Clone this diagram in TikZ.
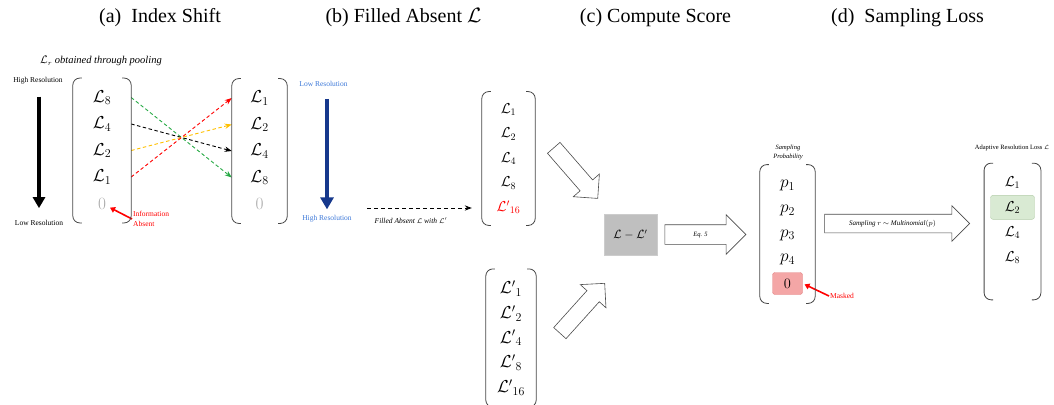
\documentclass[tikz,border=0pt]{standalone}
\usepackage{fontspec}
\setmainfont{Liberation Serif}
\usetikzlibrary{matrix,arrows.meta,shapes.arrows,calc,positioning}

\definecolor{dashgreen}{RGB}{40,170,70}
\definecolor{dashyellow}{RGB}{255,192,0}
\definecolor{lowblue}{RGB}{60,120,216}
\definecolor{navyarrow}{RGB}{22,56,140}
\definecolor{maskfill}{RGB}{244,166,166}
\definecolor{maskline}{RGB}{226,130,130}
\definecolor{pickfill}{RGB}{217,234,211}
\definecolor{pickline}{RGB}{180,205,170}
\definecolor{brkgray}{RGB}{70,70,70}
\definecolor{absentgray}{RGB}{170,170,170}

\newcommand{\sz}[1]{\fontsize{#1}{#1}\selectfont}

\begin{document}
\begin{tikzpicture}[x=1pt,y=-1pt,>=Stealth,
    title/.style={font=\sz{20}, anchor=base, inner sep=0pt},
    note/.style={font=\fontsize{7.5}{10}\selectfont, inner sep=1pt},
    vec/.style={matrix of math nodes, inner xsep=6pt, inner ysep=6pt, row sep=0pt},
    cell/.style 2 args={inner sep=0pt, anchor=center, minimum height=#1, minimum width=#2},
    brk/.style={draw=brkgray, line width=0.8pt, rounded corners=7pt},
    cross/.style={->, dash pattern=on 3.5pt off 2.5pt, line width=0.9pt},
    redarr/.style={red, line width=1.6pt, -{Triangle[width=6pt,length=5pt]}},
    blockarr/.style={single arrow, draw=black!70, line width=0.6pt, fill=white,
        single arrow tip angle=90, inner xsep=0pt, text height=0pt, text depth=0pt}]

    \useasboundingbox (0,0) rectangle (1054,404);

    % titles
    \node[title] (ttla) at (160,23) {(a)\ \ Index Shift};
    \node[title] (ttlb) at (403.5,23) {(b) Filled Absent $\mathcal{L}$};
    \node[title] (ttlc) at (655.5,23) {(c) Compute Score};
    \node[title] (ttld) at (907.5,23) {(d)\ \ Sampling Loss};

    % (a) index shift
    \node[font=\itshape\sz{10.5}] (poolnote) at (101,61) {$\mathcal{L}_r$ obtained through pooling};
    \node[note] (hires) at (38,81) {High Resolution};
    \node[note] (lores) at (39,223) {Low Resolution};
    \draw[line width=4pt, -{Triangle[width=12pt,length=11pt]}, shorten <=11pt, shorten >=11pt]
        (hires.south -| lores) -- (lores.north);

    \matrix (pooled) [vec, font=\sz{17.28}, nodes={cell={26.5pt}{46pt}, font=\sz{17.28}}] at (102,150.5) {
        \mathcal{L}_8 \\ \mathcal{L}_4 \\ \mathcal{L}_2 \\ \mathcal{L}_1 \\ |[text=absentgray]| 0 \\
    };
    \matrix (shifted) [vec, font=\sz{17.28}, nodes={cell={26.5pt}{43pt}, font=\sz{17.28}}] at (259.5,151) {
        \mathcal{L}_1 \\ \mathcal{L}_2 \\ \mathcal{L}_4 \\ \mathcal{L}_8 \\ |[text=absentgray]| 0 \\
    };

    \foreach \i/\j/\c in {1/4/dashgreen, 2/3/black, 3/2/dashyellow, 4/1/red}
        \draw[cross, \c] (pooled-\i-1 -| pooled.east) -- (shifted-\j-1 -| shifted.west);

    \node[note, text=red, align=left, anchor=west] (absent) at (132,219) {Information\\Absent};
    \draw[redarr, shorten >=9pt] (absent.west) -- (pooled-5-1.center);

    % (b) filled absent
    \node[note, text=lowblue] (lores2) at (323.5,84) {Low Resolution};
    \node[note, text=lowblue] (hires2) at (327,219) {High Resolution};
    \draw[navyarrow, line width=4.5pt, -{Triangle[width=13pt,length=12pt]}, shorten <=11pt, shorten >=5pt]
        (lores2.south -| hires2) -- (hires2.north);

    \matrix (filled) [vec, inner ysep=5.5pt, font=\sz{14.4}, nodes={cell={24.5pt}{41pt}, font=\sz{14.4}}] at (508.5,158.5) {
        \mathcal{L}_1 \\ \mathcal{L}_2 \\ \mathcal{L}_4 \\ \mathcal{L}_8 \\ |[text=red]| {\mathcal{L}'}_{16} \\
    };
    \coordinate (fillfrom) at (367,208);
    \draw[->, dash pattern=on 4pt off 3pt, line width=0.9pt, shorten >=10pt] (fillfrom) -- (fillfrom -| filled.west);
    \node[font=\itshape\sz{7.5}] (filllab) at (411,221) {Filled Absent $\mathcal{L}$ with $\mathcal{L}'$};

    \matrix (fresh) [vec, inner ysep=7pt, font=\sz{17.28}, nodes={cell={24.75pt}{38pt}, font=\sz{17.28}}] at (511,338) {
        {\mathcal{L}'}_1 \\ {\mathcal{L}'}_2 \\ {\mathcal{L}'}_4 \\ {\mathcal{L}'}_8 \\ {\mathcal{L}'}_{16} \\
    };

    % (c) compute score
    \node[draw=black!20, fill=black!25, minimum width=53pt, minimum height=41pt, font=\sz{12}] (score) at (630.5,234.5) {$\mathcal{L}-\mathcal{L}'$};
    \node[blockarr, rotate=-49, minimum height=67pt, inner ysep=8pt, single arrow head extend=9pt] (toscore1) at (573,170) {};
    \node[blockarr, rotate=48, minimum height=67pt, inner ysep=8pt, single arrow head extend=9pt] (toscore2) at (579.5,311.3) {};
    \node[blockarr, minimum height=81pt, inner ysep=7.5pt, text height=4pt, single arrow head extend=10pt,
        font=\itshape\sz{6.5}] (eqarr) at (700.5,234.5) {Eq. 5};

    % (d) sampling loss
    \node[font=\itshape\fontsize{6.5}{9}\selectfont, align=center, inner sep=0pt] (problab) at (788,152) {Sampling\\Probability};
    \matrix (prob) [vec, inner ysep=8.5pt, font=\sz{17.28}, nodes={cell={24.75pt}{43pt}, font=\sz{17.28}}] at (787.5,234) {
        p_1 \\ p_2 \\ p_3 \\ p_4 \\
        |[fill=maskfill, draw=maskline, rounded corners=2.5pt, minimum width=30pt, minimum height=22pt, font=\sz{14.4}]| 0 \\
    };
    \node[note, text=red, anchor=west] (masked) at (829,296) {Masked};
    \draw[redarr, shorten >=2pt] (masked.west) -- (prob-5-1.east);

    \node[blockarr, minimum height=145pt, inner ysep=7pt, text height=4pt, single arrow head extend=8.5pt,
        font=\itshape\sz{7}] (samplearr) at (892.5,223.5) {Sampling $r$ $\sim$ Multinomial$(p)$};

    \node[font=\sz{6.5}] (losslab) at (1012,148) {Adaptive Resolution Loss $\mathcal{L}$};
    \matrix (loss) [vec, inner ysep=6.5pt, font=\sz{14.4}, nodes={cell={25.3pt}{43pt}, font=\sz{14.4}}] at (1012.5,220) {
        \mathcal{L}_1 \\
        |[fill=pickfill, draw=pickline, rounded corners=2.5pt, minimum width=44pt, minimum height=24pt]| \mathcal{L}_2 \\
        \mathcal{L}_4 \\ \mathcal{L}_8 \\
    };

    % brackets round the vectors
    \foreach \m/\ext in {pooled/0pt, shifted/0pt, filled/0pt, fresh/0pt, prob/0pt, loss/23pt} {
        \draw[brk] ([xshift=9pt]\m.north west) -- (\m.north west) -- ([yshift=-\ext]\m.south west) -- ([xshift=9pt,yshift=-\ext]\m.south west);
        \draw[brk] ([xshift=-9pt]\m.north east) -- (\m.north east) -- ([yshift=-\ext]\m.south east) -- ([xshift=-9pt,yshift=-\ext]\m.south east);
    }
\end{tikzpicture}
\end{document}
